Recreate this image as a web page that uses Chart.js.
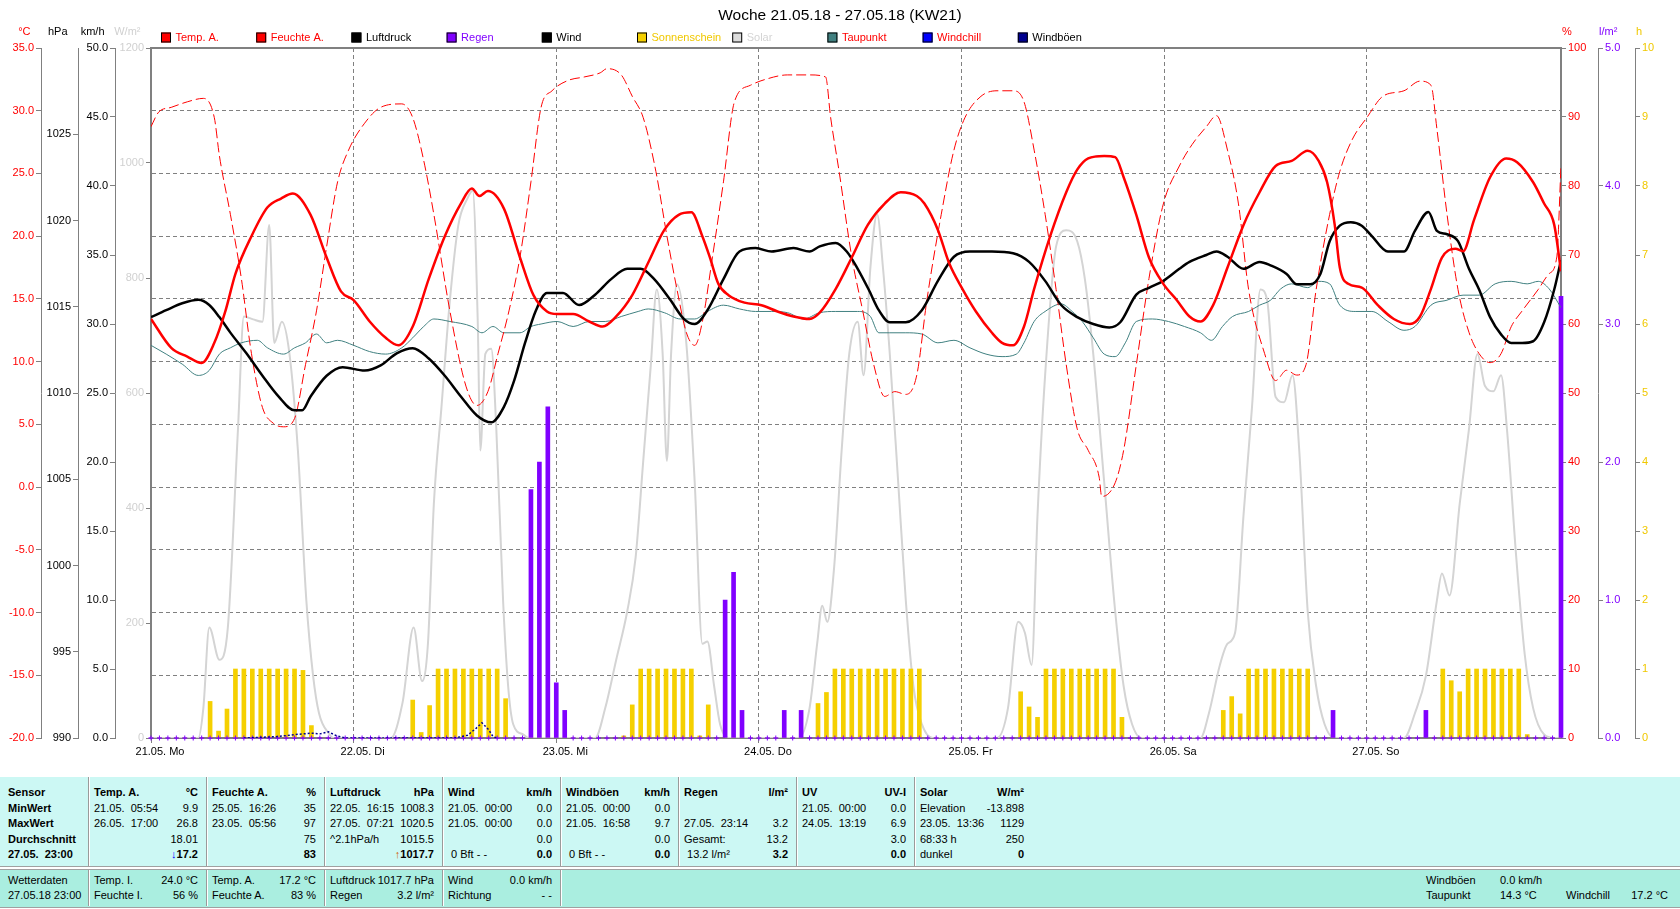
<!DOCTYPE html>
<html lang="de">
<head>
<meta charset="utf-8">
<title>Woche 21.05.18 - 27.05.18 (KW21)</title>
<script src="https://cdn.jsdelivr.net/npm/chart.js@4.4.1/dist/chart.umd.min.js"></script>
<style>
  html, body { margin:0; padding:0; background:#ffffff; }
  body { width:1680px; height:909px; position:relative; overflow:hidden; font-family:"Liberation Sans", Arial, sans-serif; }
  #chartBox { position:absolute; left:0; top:0; width:1680px; height:770px; }
  #tbl { position:absolute; left:0; top:777px; width:1680px; height:132px; font-size:11px; color:#000; }
  .row1 { position:absolute; left:0; top:0; width:1680px; height:89px; background:#ccf8f4; }
  .row2 { position:absolute; left:0; top:92px; width:1680px; height:37px; background:#aaeee0; border-top:1px solid #a0a0a0; border-bottom:1px solid #a0a0a0; }
  .sep { position:absolute; left:0; top:89px; width:1680px; height:1px; background:#a0a0a0; }
  .t { position:absolute; white-space:pre; line-height:13px; height:13px; }
  .b { font-weight:bold; }
  .vd { position:absolute; width:1px; background:#9a9a9a; }
  .vw { position:absolute; width:1px; background:#ffffff; }
</style>
</head>
<body>
<div id="chartBox"><canvas id="c" width="1680" height="770"></canvas></div>
<div id="tbl"></div>
<script>
// ---------------- DATA (hour of week 0..167, value) ----------------
const dayLabels = ['21.05. Mo','22.05. Di','23.05. Mi','24.05. Do','25.05. Fr','26.05. Sa','27.05. So'];
const dayTicks  = [0,24,48,72,96,120,144];
const tempTicks  = [-20,-15,-10,-5,0,5,10,15,20,25,30,35];
const hpaTicks   = [990,995,1000,1005,1010,1015,1020,1025];
const kmhTicks   = [0,5,10,15,20,25,30,35,40,45,50];
const solarTicks = [0,200,400,600,800,1000,1200];
const humTicks   = [0,10,20,30,40,50,60,70,80,90,100];
const rainTicks  = [0,1,2,3,4,5];
const sunTicks   = [0,1,2,3,4,5,6,7,8,9,10];

const tempA = [[0,13.4],[2.4,11.1],[4.3,10.4],[6.0,9.9],[7.5,11.5],[8.8,14.0],[10.0,17.0],[11.9,20.0],[13.8,22.3],[15.4,23.0],[16.8,23.4],[18.9,21.7],[20.8,18.3],[22.5,15.6],[24.0,14.9],[25.9,13.2],[27.8,11.9],[29.3,11.3],[31.0,12.8],[32.9,16.6],[34.8,20.0],[36.7,22.6],[38.0,23.8],[38.9,23.2],[39.9,23.6],[41.8,22.2],[43.7,18.3],[45.3,15.3],[46.9,14.0],[48.1,13.8],[50.0,13.8],[51.9,13.2],[53.5,12.8],[55.1,13.6],[57.0,15.3],[58.9,17.9],[60.8,20.5],[62.5,21.7],[64.0,21.9],[65.3,20.0],[66.2,18.3],[67.2,16.2],[68.4,15.3],[70.3,14.7],[72.3,14.5],[74.2,14.0],[76.1,13.6],[78.0,13.4],[79.2,13.9],[81.1,15.8],[83.0,18.3],[84.9,20.9],[86.9,22.6],[88.8,23.5],[90.7,23.2],[91.6,22.6],[93.2,20.5],[94.5,17.9],[96.1,15.8],[97.7,14.0],[99.6,12.3],[100.8,11.5],[102.1,11.3],[103.4,12.8],[104.6,15.8],[106.5,20.0],[108.4,23.5],[109.7,25.3],[111.0,26.2],[112.9,26.4],[114.2,26.3],[115.2,24.7],[116.7,21.7],[118.2,18.3],[119.9,16.2],[121.5,14.9],[123.0,13.6],[124.3,13.2],[125.8,14.5],[127.5,17.5],[129.4,20.9],[131.3,23.5],[133.2,25.6],[135.1,26.0],[137.0,26.8],[138.3,26.0],[139.3,24.3],[140.2,20.9],[140.8,17.5],[141.8,16.2],[143.4,15.9],[145.3,14.5],[147.2,13.4],[149.1,13.0],[150.3,13.6],[151.6,15.8],[152.9,18.3],[154.5,19.0],[155.4,18.8],[156.7,21.3],[158.6,24.7],[160.5,26.2],[161.8,25.9],[163.7,24.3],[165.0,22.6],[166.2,20.9],[167,17.2]];

const feuchteA = [[0,88.6],[0.9,90.7],[2.4,91.4],[4.3,92.2],[6.2,92.7],[7.5,89.9],[8.1,84.4],[9.4,75.9],[10.7,66.6],[11.9,55.7],[13.2,47.9],[14.5,45.6],[15.7,45.1],[17.0,46.3],[18.3,54.1],[19.6,61.9],[20.8,71.2],[22.1,80.6],[23.4,85.2],[25.3,89.1],[27.2,91.4],[29.7,91.9],[31.0,89.9],[32.3,83.7],[33.5,75.9],[35.4,61.9],[37.3,51.0],[38.6,48.2],[39.9,50.2],[41.1,55.7],[42.4,61.9],[43.7,69.7],[45.0,80.6],[46.2,91.4],[47.5,93.8],[49.4,95.3],[51.3,95.8],[53.2,96.4],[54.0,97.0],[55.7,96.1],[57.0,93.0],[58.3,89.9],[59.8,82.1],[61.1,72.8],[62.3,65.0],[63.4,58.8],[64.4,56.9],[65.3,60.3],[66.5,69.7],[67.8,80.6],[69.1,92.2],[71.0,94.6],[72.9,95.5],[75.4,96.1],[78.0,96.1],[79.9,95.8],[80.5,89.9],[81.5,82.1],[83.0,69.7],[84.3,61.9],[85.6,54.1],[86.9,49.5],[88.1,50.2],[89.4,49.8],[90.7,52.6],[91.9,63.5],[93.6,75.9],[95.1,85.2],[96.4,89.9],[98.3,93.0],[100.2,93.8],[102.1,93.8],[103.4,92.2],[104.6,85.2],[105.9,75.9],[107.2,65.0],[108.4,54.1],[109.7,44.8],[111.0,41.7],[112.3,37.8],[112.6,35.0],[114.2,37.0],[115.2,41.7],[116.7,54.1],[118.2,66.6],[119.9,77.4],[121.8,82.9],[123.3,86.0],[125.0,88.6],[126.2,90.2],[127.5,85.2],[128.8,77.4],[130.0,65.0],[131.9,55.7],[133.2,51.8],[134.5,53.3],[135.7,52.6],[136.8,54.1],[138.0,65.0],[139.6,75.9],[140.8,82.1],[142.3,86.8],[144.0,89.9],[145.9,93.0],[148.4,93.8],[150.3,95.2],[151.6,94.6],[152.3,88.3],[153.5,75.9],[154.8,65.0],[156.1,58.8],[157.3,55.7],[158.6,54.4],[159.9,55.7],[161.1,59.6],[162.4,61.9],[164.3,65.0],[165.6,67.3],[166.5,69.7],[167,83.0]];

const luftdruck = [[0,1014.4],[1.8,1014.8],[3.7,1015.2],[5.6,1015.4],[6.9,1015.1],[8.1,1014.4],[9.4,1013.5],[11.3,1012.3],[13.2,1011.0],[15.1,1009.8],[17.0,1009.0],[17.9,1009.0],[18.9,1009.8],[20.8,1011.0],[22.7,1011.5],[25.3,1011.3],[27.2,1011.6],[29.1,1012.3],[31.0,1012.6],[32.9,1012.0],[34.8,1011.0],[36.7,1009.8],[38.6,1008.7],[40.3,1008.3],[41.8,1009.2],[43.0,1010.7],[44.3,1012.9],[45.6,1014.8],[46.9,1015.8],[48.8,1015.8],[50.7,1015.1],[52.6,1015.7],[54.5,1016.6],[56.4,1017.2],[58.0,1017.2],[59.6,1016.6],[61.5,1015.4],[63.1,1014.3],[64.4,1014.0],[65.9,1014.8],[67.8,1016.6],[69.7,1018.2],[71.6,1018.4],[73.5,1018.2],[76.1,1018.4],[78.0,1018.2],[79.2,1018.5],[81.1,1018.7],[82.4,1018.2],[83.7,1017.2],[85.0,1016.0],[86.2,1014.8],[87.5,1014.1],[89.4,1014.1],[91.3,1014.8],[93.2,1016.5],[95.1,1017.9],[97.0,1018.2],[99.6,1018.2],[102.1,1018.1],[104.0,1017.6],[105.9,1016.5],[107.8,1015.1],[109.7,1014.4],[111.6,1014.0],[113.5,1013.8],[114.8,1014.1],[116.7,1015.7],[118.2,1016.1],[119.9,1016.5],[121.8,1017.2],[123.0,1017.6],[125.0,1018.0],[126.2,1018.2],[127.5,1017.9],[129.4,1017.2],[131.3,1017.6],[132.6,1017.4],[134.5,1016.9],[135.7,1016.3],[137.3,1016.3],[138.5,1016.9],[139.6,1018.8],[140.8,1019.7],[142.1,1019.9],[143.4,1019.7],[144.6,1019.1],[146.5,1018.2],[148.4,1018.2],[149.7,1019.4],[151.3,1020.5],[152.3,1019.4],[153.5,1019.2],[154.8,1018.8],[156.1,1017.2],[157.3,1016.0],[158.6,1014.4],[159.9,1013.4],[161.1,1012.9],[162.4,1012.9],[163.7,1013.0],[165.0,1014.1],[166.2,1016.0],[167,1017.7]];

const taupunkt = [[0,11.3],[1.8,10.6],[3.7,9.8],[5.6,8.9],[6.9,9.3],[8.1,10.6],[9.4,11.1],[10.7,11.5],[12.6,11.7],[13.8,11.1],[15.7,10.6],[17.0,11.1],[18.3,11.5],[19.6,12.2],[20.8,11.5],[22.1,11.7],[24.0,11.3],[25.9,10.8],[27.8,10.6],[29.7,11.1],[31.0,11.9],[32.3,12.8],[33.5,13.4],[35.4,13.2],[38.0,12.8],[39.2,12.3],[40.5,12.8],[41.8,12.3],[43.7,12.3],[45.0,12.8],[46.2,13.0],[48.1,13.2],[50.0,12.8],[51.9,13.2],[53.8,13.2],[55.7,13.6],[57.7,14.0],[58.9,14.2],[60.8,13.9],[62.7,13.4],[64.4,13.4],[65.9,14.0],[67.8,14.5],[69.7,14.2],[71.6,14.0],[73.5,14.0],[75.4,13.9],[77.3,13.4],[79.2,13.9],[81.1,14.0],[83.7,14.0],[85.2,13.6],[86.2,12.3],[87.5,12.3],[89.4,12.3],[91.3,12.2],[93.2,11.5],[95.1,11.7],[97.0,11.1],[98.9,10.6],[100.8,10.4],[102.5,10.6],[103.4,11.5],[104.6,13.2],[105.9,14.0],[107.8,14.6],[109.1,14.0],[110.3,13.2],[111.6,11.9],[112.9,10.6],[114.2,10.4],[115.4,11.5],[116.7,13.2],[118.6,13.4],[120.5,13.2],[122.4,12.8],[124.3,12.3],[125.6,11.7],[126.9,12.8],[128.1,13.6],[130.0,14.0],[131.3,14.5],[132.6,14.9],[133.8,15.8],[135.1,16.2],[137.0,15.9],[138.3,16.4],[139.6,16.2],[140.8,14.5],[142.7,14.0],[144.6,14.0],[146.5,13.2],[148.4,12.5],[149.7,12.8],[151.6,14.5],[153.5,14.9],[155.4,15.3],[157.3,15.3],[159.2,16.2],[161.1,16.4],[163.0,16.2],[164.3,16.4],[165.6,15.8],[167,14.3]];

const solar = [[0,0],[5.6,0],[6.2,52],[6.9,192],[8.1,136],[9.1,192],[10.3,537],[11.0,733],[12.1,728],[13.2,724],[14.0,892],[14.6,687],[15.5,724],[16.4,668],[17.4,500],[18.4,239],[19.2,108],[19.9,43],[21.1,7],[21.6,0],
  [28.4,0],[29.8,62],[31.1,192],[32.1,99],[32.8,164],[33.5,407],[34.4,575],[35.4,761],[36.4,892],[37.5,939],[38.1,952],[38.7,724],[39.0,500],[39.6,668],[40.3,677],[40.9,537],[41.7,239],[42.3,90],[42.9,24],[44.1,6],[44.7,0],
  [52.6,0],[53.8,52],[55.1,136],[56.4,220],[57.4,314],[58.3,482],[59.2,649],[59.9,780],[60.6,668],[61.1,482],[61.6,668],[62.3,789],[63.4,687],[64.4,444],[65.3,164],[65.9,168],[66.7,90],[67.4,24],[68.4,0],
  [76.7,0],[78.0,52],[78.9,164],[79.5,230],[80.1,202],[80.9,295],[81.8,500],[82.7,668],[83.7,724],[84.4,631],[85.2,817],[86.0,911],[86.7,817],[87.5,668],[88.5,444],[89.4,239],[90.3,90],[91.3,24],[92.6,0],
  [100.2,0],[101.5,52],[102.7,202],[103.5,183],[104.3,127],[105.0,388],[105.9,631],[107.2,855],[108.4,883],[109.7,864],[110.6,799],[111.6,668],[112.9,444],[114.2,220],[115.2,90],[116.2,24],[117.3,0],
  [124.3,0],[125.3,43],[126.6,127],[127.5,164],[128.4,183],[129.4,388],[130.4,575],[131.4,780],[132.2,761],[133.2,593],[134.2,584],[135.2,631],[136.0,500],[137.0,220],[138.0,90],[139.0,24],[140.2,0],
  [148.4,0],[149.7,43],[151.0,108],[152.3,239],[152.9,286],[153.8,248],[155.0,407],[156.1,537],[157.1,668],[158.0,612],[159.0,603],[159.9,631],[160.6,537],[161.7,314],[162.7,146],[163.7,52],[165.0,6],[166.2,0],[167,0]];

// hourly rain (l/m²), one row per day, hours 0..23
const regen = [
  [0,0,0,0,0,0,0,0,0,0,0,0,0,0,0,0,0,0,0,0,0,0,0,0],
  [0,0,0,0,0,0,0,0,0,0,0,0,0,0,0,0,0,0,0,0,0,1.8,2.0,2.4],
  [0.4,0.2,0,0,0,0,0,0,0,0,0,0,0,0,0,0,0,0,0,0,1.0,1.2,0.2,0],
  [0,0,0,0.2,0,0.2,0,0,0,0,0,0,0,0,0,0,0,0,0,0,0,0,0,0],
  [0,0,0,0,0,0,0,0,0,0,0,0,0,0,0,0,0,0,0,0,0,0,0,0],
  [0,0,0,0,0,0,0,0,0,0,0,0,0,0,0,0,0,0,0,0,0.2,0,0,0],
  [0,0,0,0,0,0,0,0.2,0,0,0,0,0,0,0,0,0,0,0,0,0,0,0,3.2]
];
// hourly sunshine (h), one row per day
const sonne = [
  [0,0,0,0,0,0,0,0.53,0.1,0.42,1,1,1,1,1,1,1,1,0.98,0.18,0,0,0,0],
  [0,0,0,0,0,0,0,0.55,0.08,0.47,1,1,1,1,1,1,1,1,0.57,0,0,0,0,0],
  [0,0,0,0,0,0,0,0,0.03,0.48,1,1,1,1,1,1,1,0.03,0.48,0,0,0,0,0],
  [0,0,0,0,0,0,0,0.5,0.66,1,1,1,1,1,1,1,1,1,1,1,0,0,0,0],
  [0,0,0,0,0,0,0,0.67,0.45,0.3,1,1,1,1,1,1,1,1,1,0.3,0,0,0,0],
  [0,0,0,0,0,0,0,0.4,0.6,0.35,1,1,1,1,1,1,1,1,0,0,0,0,0,0],
  [0,0,0,0,0,0,0,0,0,1,0.83,0.67,1,1,1,1,1,1,1,0.05,0,0,0,0]
];
const wind = [[0,0],[167,0]];
const windboeen = [[11,0],[15,0.1],[17,0.25],[19,0.35],[20,0.3],[21,0.45],[22,0.15],[23,0],[36,0],[37.5,0.2],[38.5,0.7],[39.2,1.1],[40,0.6],[40.5,0.1],[41,0]];

const legendLabels     = ['Temp. A.','Feuchte A.','Luftdruck','Regen','Wind','Sonnenschein','Solar','Taupunkt','Windchill','Windböen'];
const legendBoxColors  = ['#ff0000','#ff0000','#000000','#8000ff','#000000','#f5d000','#dcdcdc','#408080','#0000ff','#000090'];
const legendTextColors = ['#ff0000','#ff0000','#000000','#8000ff','#000000','#f0c800','#d4d4d4','#ff0000','#ff0000','#000000'];
const axisUnits = [['yT','°C','#ff0000'],['yP','hPa','#000000'],['yW','km/h','#000000'],['yL','W/m²','#d0d0d0'],['yH','%','#ff0000'],['yR','l/m²','#8000ff'],['yS','h','#f0c800']];

// ---------------- CHART ----------------
const P = a => a.map(([x, y]) => ({x, y}));
const H = rows => rows.flat().map((y, x) => ({x, y}));

Chart.defaults.font.family = "'Liberation Sans', Arial, sans-serif";
Chart.defaults.font.size = 11;

function yScale(o) {
  return {
    type: 'linear', position: o.pos, weight: o.weight, min: o.min, max: o.max, offset: false,
    afterBuildTicks: s => { s.ticks = o.ticks.map(v => ({value: v})); },
    afterFit: s => { s.width = o.width; },
    ticks: { color: o.color, padding: 2, autoSkip: false, callback: v => o.fmt(v) },
    grid: { drawOnChartArea: !!o.grid, offset: false, color: '#808080', lineWidth: 1, tickLength: 5, tickColor: '#808080', drawTicks: true },
    border: { display: true, color: '#808080', width: 1, dash: o.grid ? [4, 3] : [] }
  };
}
const f1 = v => v.toFixed(1), f0 = v => String(v);

const WIND_INDEX = 4;
const framePlugin = {
  id: 'frame',
  afterDatasetDraw(chart, args) {
    if (args.index !== WIND_INDEX) return;
    const {ctx, chartArea: a} = chart;
    ctx.save();
    ctx.strokeStyle = '#808080'; ctx.lineWidth = 2;
    ctx.strokeRect(a.left, a.top, a.right - a.left, a.bottom - a.top);
    ctx.restore();
  }
};
const textPlugin = {
  id: 'texts',
  afterDraw(chart) {
    const ctx = chart.ctx;
    ctx.save();
    ctx.font = "11px 'Liberation Sans', Arial, sans-serif";
    ctx.textBaseline = 'middle';
    legendLabels.forEach((lab, i) => {
      const x = 161 + i * 95.2, y = 37.5;
      ctx.fillStyle = legendBoxColors[i];
      ctx.fillRect(x, y - 5, 10, 10);
      ctx.strokeStyle = '#000'; ctx.lineWidth = 1;
      ctx.strokeRect(x + 0.5, y - 4.5, 9, 9);
      ctx.fillStyle = legendTextColors[i];
      ctx.textAlign = 'left';
      ctx.fillText(lab, x + 14.5, y);
    });
    axisUnits.forEach(([id, txt, col]) => {
      const s = chart.scales[id];
      ctx.fillStyle = col;
      if (s.position === 'left') { ctx.textAlign = 'right'; ctx.fillText(txt, s.right - 10.5, 32); }
      else { ctx.textAlign = 'left'; ctx.fillText(txt, s.left + 1, 32); }
    });
    ctx.restore();
  }
};

const rainPts = H(regen);
new Chart(document.getElementById('c'), {
  type: 'line',
  data: {
    datasets: [
      {type:'line', label:'Temp. A.', data:P(tempA), yAxisID:'yT', borderColor:'#ff0000', borderWidth:2.5, pointRadius:0, cubicInterpolationMode:'monotone', order:3},
      {type:'line', label:'Feuchte A.', data:P(feuchteA), yAxisID:'yH', borderColor:'#ff0000', borderWidth:1, borderDash:[10,4], pointRadius:0, cubicInterpolationMode:'monotone', order:6},
      {type:'line', label:'Luftdruck', data:P(luftdruck), yAxisID:'yP', borderColor:'#000000', borderWidth:2.5, pointRadius:0, cubicInterpolationMode:'monotone', order:4},
      {type:'bar', label:'Regen', data:rainPts, yAxisID:'yR', backgroundColor:'#8000ff', barThickness:4, grouped:false, borderWidth:0, order:10, clip:4},
      {type:'line', label:'Wind', data:P(wind), yAxisID:'yW', borderColor:'#000000', borderWidth:1, pointRadius:0, order:20},
      {type:'bar', label:'Sonnenschein', data:H(sonne), yAxisID:'yS', backgroundColor:'#f5d000', barThickness:4, grouped:false, borderWidth:0, order:11},
      {type:'line', label:'Solar', data:P(solar), yAxisID:'yL', borderColor:'#d4d4d4', borderWidth:2, pointRadius:0, cubicInterpolationMode:'monotone', order:12},
      {type:'line', label:'Taupunkt', data:P(taupunkt), yAxisID:'yT', borderColor:'#408080', borderWidth:1, pointRadius:0, cubicInterpolationMode:'monotone', order:7},
      {type:'line', label:'Windchill', data:P(tempA), yAxisID:'yT', borderColor:'#0000ff', borderWidth:1, pointRadius:0, cubicInterpolationMode:'monotone', order:5},
      {type:'line', label:'Windböen', data:P(windboeen), yAxisID:'yW', borderColor:'#000090', borderWidth:1.5, borderDash:[2,2], pointRadius:0, order:8},
      {type:'line', label:'Regen (0)', data:rainPts.filter(p => p.y === 0), yAxisID:'yR', showLine:false, pointStyle:'cross', pointRadius:2.5, borderColor:'#8000ff', borderWidth:1, order:9, clip:4}
    ]
  },
  options: {
    responsive: false, animation: false, devicePixelRatio: 1,
    layout: { padding: 0 },
    plugins: {
      legend: { display: false }, tooltip: { enabled: false },
      title: { display: true, text: 'Woche 21.05.18 - 27.05.18 (KW21)', color: '#000', font: { size: 15.5, weight: 'normal' }, padding: { top: 6, bottom: 23.4 } }
    },
    scales: {
      x: {
        type: 'linear', min: 0, max: 167, position: 'bottom', offset: false,
        afterBuildTicks: s => { s.ticks = dayTicks.map(v => ({value: v})); },
        afterFit: s => { s.height = 32; },
        ticks: { color: '#000', padding: 2, autoSkip: false, maxRotation: 0, labelOffset: 9, callback: (v, i) => dayLabels[i] },
        grid: { offset: false, color: '#808080', lineWidth: 1, tickLength: 5, tickColor: '#808080' },
        border: { display: true, color: '#808080', width: 1, dash: [4, 3] }
      },
      yT: yScale({pos:'left', weight:4, width:41, min:-20, max:35, ticks:tempTicks, color:'#ff0000', fmt:f1, grid:true}),
      yP: yScale({pos:'left', weight:3, width:37, min:990, max:1030, ticks:hpaTicks, color:'#000000', fmt:f0}),
      yW: yScale({pos:'left', weight:2, width:37, min:0, max:50, ticks:kmhTicks, color:'#000000', fmt:f1}),
      yL: yScale({pos:'left', weight:1, width:36, min:0, max:1200, ticks:solarTicks, color:'#d0d0d0', fmt:f0}),
      yH: yScale({pos:'right', weight:1, width:37, min:0, max:100, ticks:humTicks, color:'#ff0000', fmt:f0}),
      yR: yScale({pos:'right', weight:2, width:37, min:0, max:5, ticks:rainTicks, color:'#8000ff', fmt:f1}),
      yS: yScale({pos:'right', weight:3, width:45, min:0, max:10, ticks:sunTicks, color:'#f0c800', fmt:f0})
    }
  },
  plugins: [framePlugin, textPlugin]
});

// ---------------- TABLE ----------------
const tblLeft = ['Sensor','MinWert','MaxWert','Durchschnitt','27.05.  23:00'];
const tblCols = [
  [['Temp. A.','°C'],['21.05.  05:54','9.9'],['26.05.  17:00','26.8'],['','18.01'],['','<span style="color:#0000ff">↓</span>17.2']],
  [['Feuchte A.','%'],['25.05.  16:26','35'],['23.05.  05:56','97'],['','75'],['','83']],
  [['Luftdruck','hPa'],['22.05.  16:15','1008.3'],['27.05.  07:21','1020.5'],['^2.1hPa/h','1015.5'],['','<span style="color:#d06000">↑</span>1017.7']],
  [['Wind','km/h'],['21.05.  00:00','0.0'],['21.05.  00:00','0.0'],['','0.0'],[' 0 Bft - -','0.0']],
  [['Windböen','km/h'],['21.05.  00:00','0.0'],['21.05.  16:58','9.7'],['','0.0'],[' 0 Bft - -','0.0']],
  [['Regen','l/m²'],['',''],['27.05.  23:14','3.2'],['Gesamt:','13.2'],[' 13.2 l/m²','3.2']],
  [['UV','UV-I'],['21.05.  00:00','0.0'],['24.05.  13:19','6.9'],['','3.0'],['','0.0']],
  [['Solar','W/m²'],['Elevation','-13.898'],['23.05.  13:36','1129'],['68:33 h','250'],['dunkel','0']]
];
const tblRow2Left = ['Wetterdaten','27.05.18 23:00'];
const tblRow2Cols = [
  [['Temp. I.','24.0 °C'],['Feuchte I.','56 %']],
  [['Temp. A.','17.2 °C'],['Feuchte A.','83 %']],
  [['Luftdruck','1017.7 hPa'],['Regen','3.2 l/m²']],
  [['Wind','0.0 km/h'],['Richtung','- -']]
];
const tblRow2Right = [['Windböen','0.0 km/h','',''],['Taupunkt','14.3 °C','Windchill','17.2 °C']];

(function buildTable() {
  const tbl = document.getElementById('tbl');
  const D = [88, 206, 324, 442, 560, 678, 796, 914];
  let html = '<div class="row1"></div><div class="sep"></div><div class="row2"></div>';
  const txt = (x, y, s, bold, right) => {
    const cls = 't' + (bold ? ' b' : '');
    if (right) return `<div class="${cls}" style="left:${x - 200}px;top:${y}px;width:200px;text-align:right">${s}</div>`;
    return `<div class="${cls}" style="left:${x}px;top:${y}px">${s}</div>`;
  };
  const r1 = k => 9 + k * 15.5;
  tblLeft.forEach((s, k) => { html += txt(8, r1(k), s, true, false); });
  D.forEach((d, i) => {
    html += `<div class="vd" style="left:${d}px;top:0;height:89px"></div><div class="vw" style="left:${d + 1}px;top:0;height:89px"></div>`;
    tblCols[i].forEach(([l, r], k) => {
      if (l) html += txt(d + 6, r1(k), l, k === 0, false);
      if (r) html += txt(d + 110, r1(k), r, k === 0 || k === 4, true);
    });
  });
  const r2 = k => 96.5 + k * 15.7;
  tblRow2Left.forEach((s, k) => { html += txt(8, r2(k), s, false, false); });
  D.slice(0, 5).forEach((d, i) => {
    html += `<div class="vd" style="left:${d}px;top:93px;height:36px"></div><div class="vw" style="left:${d + 1}px;top:93px;height:36px"></div>`;
    if (i < 4) tblRow2Cols[i].forEach(([l, r], k) => {
      html += txt(d + 6, r2(k), l, false, false);
      html += txt(d + 110, r2(k), r, false, true);
    });
  });
  tblRow2Right.forEach(([a, b, c, e], k) => {
    if (a) html += txt(1426, r2(k), a, false, false);
    if (b) html += txt(1500, r2(k), b, false, false);
    if (c) html += txt(1566, r2(k), c, false, false);
    if (e) html += txt(1668, r2(k), e, false, true);
  });
  tbl.innerHTML = html;
})();
</script>
</body>
</html>
